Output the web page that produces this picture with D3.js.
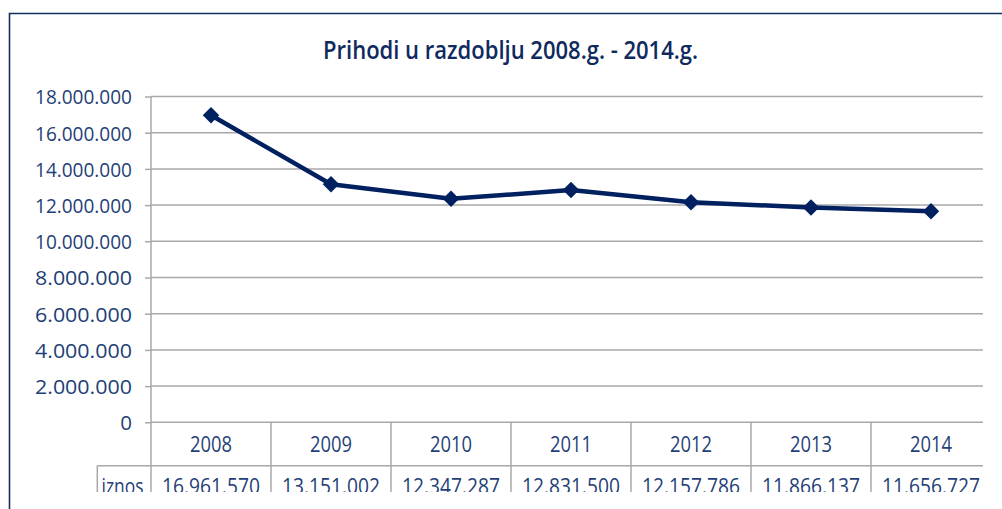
<!DOCTYPE html>
<html>
<head>
<meta charset="utf-8">
<script src="https://cdn.jsdelivr.net/npm/d3@7"></script>
<style>
  body { margin: 0; background: #fff; }
  svg { display: block; }
</style>
</head>
<body>
<script>
// Podaci
const godine = ["2008", "2009", "2010", "2011", "2012", "2013", "2014"];
const iznosi = [16961570, 13151002, 12347287, 12831500, 12157786, 11866137, 11656727];
const yTicks = [0, 2000000, 4000000, 6000000, 8000000, 10000000, 12000000, 14000000, 16000000, 18000000];
const naslov = "Prihodi u razdoblju 2008.g. - 2014.g.";
const nazivSerije = "iznos";

const width = 1002;
const height = 509;
const marginLeft = 151;
const marginTop = 96.5;
const plotBottom = 422.3;
const plotRight = 983;   // slika je odrezana desno
const cutBottom = 492;   // i dolje

const navy = "#002060";
const textColor = "#1f3f78";
const gridColor = "#a8a8a8";

const fmt = d3.formatLocale({ decimal: ",", thousands: ".", grouping: [3], currency: ["", ""] }).format(",");

const svg = d3.create("svg")
  .attr("width", width)
  .attr("height", height)
  .style("font-family", "'Open Sans', sans-serif");

svg.append("defs").append("clipPath").attr("id", "rez")
  .append("rect").attr("x", 0).attr("y", 0).attr("width", plotRight).attr("height", cutBottom);

// Okvir
svg.append("path")
  .attr("d", `M9.5,${height} V13.5 H${width}`)
  .attr("fill", "none")
  .attr("stroke", "#12315f")
  .attr("stroke-width", 1.6);

// Naslov
svg.append("text")
  .attr("x", 510.5)
  .attr("y", 59)
  .attr("text-anchor", "middle")
  .attr("fill", "#0f2a5e")
  .attr("font-size", 24.5)
  .attr("font-weight", 600)
  .attr("textLength", 375)
  .attr("lengthAdjust", "spacingAndGlyphs")
  .text(naslov);

// Skale
const xScale = d3.scaleBand()
  .domain(godine)
  .range([marginLeft, marginLeft + 120 * godine.length]);

const yScale = d3.scaleLinear()
  .domain([0, 18000000])
  .range([plotBottom, marginTop]);

const g = svg.append("g").attr("clip-path", "url(#rez)");

// Mreža
g.selectAll("line.grid")
  .data(yTicks)
  .join("line")
  .attr("class", "grid")
  .attr("x1", marginLeft)
  .attr("x2", plotRight)
  .attr("y1", d => yScale(d))
  .attr("y2", d => yScale(d))
  .attr("stroke", gridColor)
  .attr("stroke-width", 1.5);

// Os y
svg.append("g")
  .attr("transform", `translate(${marginLeft},0)`)
  .call(d3.axisLeft(yScale).tickValues(yTicks).tickFormat(fmt).tickSize(6).tickPadding(13))
  .call(a => a.select(".domain").attr("stroke", gridColor).attr("stroke-width", 1.5).attr("d", `M0,${marginTop}V${plotBottom}`))
  .call(a => a.selectAll(".tick line").attr("stroke", gridColor).attr("stroke-width", 1.5))
  .call(a => a.selectAll(".tick text")
    .attr("fill", textColor)
    .attr("font-size", 20.5)
    .attr("font-family", "'Open Sans', sans-serif")
    .attr("dy", "0.36em")
    .attr("textLength", d => d === 0 ? null : 97)
    .attr("lengthAdjust", "spacingAndGlyphs"));

// Tablica podataka
const bounds = godine.map(d => xScale(d)).concat([xScale.range()[1]]);
g.selectAll("line.col")
  .data(bounds)
  .join("line")
  .attr("class", "col")
  .attr("x1", d => d).attr("x2", d => d)
  .attr("y1", plotBottom).attr("y2", cutBottom)
  .attr("stroke", gridColor).attr("stroke-width", 1.5);

g.append("line")
  .attr("x1", 97.3).attr("x2", plotRight)
  .attr("y1", 465.7).attr("y2", 465.7)
  .attr("stroke", gridColor).attr("stroke-width", 1.5);

g.append("line")
  .attr("x1", 97.3).attr("x2", 97.3)
  .attr("y1", 465.7).attr("y2", cutBottom)
  .attr("stroke", gridColor).attr("stroke-width", 1.5);

g.selectAll("text.godina")
  .data(godine)
  .join("text")
  .attr("class", "godina")
  .attr("x", d => xScale(d) + xScale.bandwidth() / 2)
  .attr("y", 451.7)
  .attr("text-anchor", "middle")
  .attr("fill", textColor)
  .attr("font-size", 21)
  .attr("textLength", 42)
  .attr("lengthAdjust", "spacingAndGlyphs")
  .text(d => d);

g.selectAll("text.iznos")
  .data(iznosi)
  .join("text")
  .attr("class", "iznos")
  .attr("x", (d, i) => xScale(godine[i]) + xScale.bandwidth() / 2)
  .attr("y", 494)
  .attr("text-anchor", "middle")
  .attr("fill", textColor)
  .attr("font-size", 21)
  .attr("textLength", 98)
  .attr("lengthAdjust", "spacingAndGlyphs")
  .text(d => fmt(d));

g.append("text")
  .attr("x", 122.5)
  .attr("y", 494)
  .attr("text-anchor", "middle")
  .attr("fill", textColor)
  .attr("font-size", 21)
  .attr("textLength", 42)
  .attr("lengthAdjust", "spacingAndGlyphs")
  .text(nazivSerije);

// Linija
const line = d3.line()
  .x((d, i) => xScale(godine[i]) + xScale.bandwidth() / 2)
  .y(d => yScale(d));

g.append("path")
  .datum(iznosi)
  .attr("d", line)
  .attr("fill", "none")
  .attr("stroke", navy)
  .attr("stroke-width", 4.5)
  .attr("stroke-linejoin", "round");

g.selectAll("path.marker")
  .data(iznosi)
  .join("path")
  .attr("class", "marker")
  .attr("d", d3.symbol(d3.symbolSquare, 135))
  .attr("transform", (d, i) => `translate(${xScale(godine[i]) + xScale.bandwidth() / 2},${yScale(d)}) rotate(45)`)
  .attr("fill", navy);

document.body.appendChild(svg.node());
</script>
</body>
</html>
